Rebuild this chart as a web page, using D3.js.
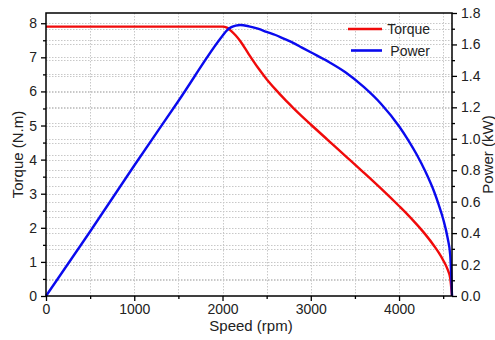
<!DOCTYPE html>
<html>
<head>
<meta charset="utf-8">
<script src="https://cdn.jsdelivr.net/npm/d3@7"></script>
<style>
	body { margin: 0; background: #fff; }
	svg { font-family: "Liberation Sans", Arial, sans-serif; }
</style>
</head>
<body>
<svg width="495" height="340"></svg>
<script>
//speed in rpm, shared by both curves
var speed = [0, 500, 1000, 1500, 2000, 2050, 2100, 2150, 2200, 2300, 2400, 2500, 2600, 2700, 2800, 2900, 3000,
	3200, 3400, 3600, 3800, 4000, 4100, 4200, 4300, 4400, 4450, 4500, 4550, 4580, 4600];
//torque in N.m
var torque = [7.9, 7.9, 7.9, 7.9, 7.9, 7.87, 7.77, 7.64, 7.48, 7.08, 6.7, 6.36, 6.06, 5.78, 5.52, 5.27, 5.03,
	4.56, 4.09, 3.62, 3.14, 2.64, 2.38, 2.1, 1.8, 1.46, 1.27, 1.05, 0.78, 0.52, 0];
//power in kW
var power = [0, 0.41, 0.83, 1.24, 1.655, 1.69, 1.71, 1.72, 1.724, 1.715, 1.7, 1.68, 1.66, 1.635, 1.61, 1.58, 1.55,
	1.49, 1.42, 1.33, 1.22, 1.08, 0.995, 0.9, 0.79, 0.66, 0.58, 0.49, 0.37, 0.26, 0];

var speedTicks = [0, 1000, 2000, 3000, 4000];
var torqueTicks = [0, 1, 2, 3, 4, 5, 6, 7, 8];
var powerTicks = [0, 0.2, 0.4, 0.6, 0.8, 1.0, 1.2, 1.4, 1.6, 1.8];

var series = [
	{ name: "Torque", values: torque, color: "#f00a0a" },
	{ name: "Power", values: power, color: "#0a0aee" }
];

var svg = d3.select("svg");
var margin = { left: 46, right: 43, top: 13, bottom: 44 };
var width = +svg.attr("width") - margin.left - margin.right;
var height = +svg.attr("height") - margin.top - margin.bottom;

var g = svg.append("g").attr("transform", "translate(" + margin.left + "," + margin.top + ")");

var x = d3.scaleLinear().domain([0, 4600]).range([0, width]);
var yT = d3.scaleLinear().domain([0, 8.3]).range([height, 0]);
var yP = d3.scaleLinear().domain([0, 1.8]).range([height, 0]);

//minor values
var speedMinor = d3.range(500, 4600, 1000);
var torqueMinor = d3.range(0.5, 8.3, 1);
var powerMinor = d3.range(0.1, 1.8, 0.2);

//Grid (dotted, both axes)
var grid = g.append("g").attr("class", "grid")
	.attr("stroke", "#c8c8c8")
	.attr("stroke-width", 1)
	.attr("stroke-dasharray", "1.5,1.5");

grid.selectAll("line.v")
	.data(d3.range(500, 4600, 500))
	.enter().append("line")
	.attr("class", "v")
	.attr("x1", (d) => Math.round(x(d)) + 0.5).attr("x2", (d) => Math.round(x(d)) + 0.5)
	.attr("y1", 0).attr("y2", height);

grid.selectAll("line.ht")
	.data(d3.range(0.5, 8.3, 0.5))
	.enter().append("line")
	.attr("class", "ht")
	.attr("x1", 0).attr("x2", width)
	.attr("y1", (d) => Math.round(yT(d)) + 0.5).attr("y2", (d) => Math.round(yT(d)) + 0.5);

grid.selectAll("line.hp")
	.data(d3.range(0.1, 1.75, 0.1))
	.enter().append("line")
	.attr("class", "hp")
	.attr("x1", 0).attr("x2", width)
	.attr("y1", (d) => Math.round(yP(d)) + 0.5).attr("y2", (d) => Math.round(yP(d)) + 0.5);

//Curves
var lineT = d3.line()
	.x((d, i) => x(speed[i]))
	.y((d) => yT(d))
	.curve(d3.curveMonotoneX);

var lineP = d3.line()
	.x((d, i) => x(speed[i]))
	.y((d) => yP(d))
	.curve(d3.curveMonotoneX);

g.append("path")
	.datum(torque)
	.attr("fill", "none")
	.attr("stroke", series[0].color)
	.attr("stroke-width", 2.4)
	.attr("d", lineT);

g.append("path")
	.datum(power)
	.attr("fill", "none")
	.attr("stroke", series[1].color)
	.attr("stroke-width", 2.4)
	.attr("d", lineP);

//Axes
var fontSize = "14px";

var xAxis = g.append("g")
	.attr("transform", "translate(0," + height + ")")
	.call(d3.axisBottom(x).tickValues(speedTicks).tickSize(5).tickPadding(3).tickFormat(d3.format("d")));

var xMinor = g.append("g")
	.attr("transform", "translate(0," + height + ")")
	.call(d3.axisBottom(x).tickValues(speedMinor).tickSize(3).tickFormat(""));

var yAxisL = g.append("g")
	.call(d3.axisLeft(yT).tickValues(torqueTicks).tickSize(5).tickPadding(4).tickFormat(d3.format("d")));

var yMinorL = g.append("g")
	.call(d3.axisLeft(yT).tickValues(torqueMinor).tickSize(3).tickFormat(""));

var yAxisR = g.append("g")
	.attr("transform", "translate(" + width + ",0)")
	.call(d3.axisRight(yP).tickValues(powerTicks).tickSize(5).tickPadding(4).tickFormat(d3.format(".1f")));

var yMinorR = g.append("g")
	.attr("transform", "translate(" + width + ",0)")
	.call(d3.axisRight(yP).tickValues(powerMinor).tickSize(3).tickFormat(""));

[xAxis, xMinor, yAxisL, yMinorL, yAxisR, yMinorR].forEach(function (a) {
	a.select(".domain").remove();
	a.selectAll("line").attr("stroke", "#000").attr("stroke-width", 1.3);
	a.selectAll("text").attr("fill", "#222").style("font-size", fontSize).style("font-family", null);
});

//frame
g.append("rect")
	.attr("x", 0).attr("y", 0)
	.attr("width", width).attr("height", height)
	.attr("fill", "none")
	.attr("stroke", "#000")
	.attr("stroke-width", 1.5);

//Axis titles
svg.append("text")
	.attr("x", margin.left + width / 2 + 2)
	.attr("y", 331)
	.attr("text-anchor", "middle")
	.style("font-size", "15px")
	.attr("fill", "#222")
	.text("Speed (rpm)");

svg.append("text")
	.attr("transform", "translate(23," + (margin.top + height / 2) + ") rotate(-90)")
	.attr("text-anchor", "middle")
	.style("font-size", "15px")
	.attr("fill", "#222")
	.text("Torque (N.m)");

svg.append("text")
	.attr("transform", "translate(493," + (margin.top + height / 2) + ") rotate(-90)")
	.attr("text-anchor", "middle")
	.style("font-size", "15px")
	.attr("fill", "#222")
	.text("Power (kW)");

//Legend
var legend = svg.append("g").attr("class", "legend");
var item = legend.selectAll("g")
	.data(series)
	.enter().append("g")
	.attr("transform", (d, i) => "translate(0," + (29 + i * 21.5) + ")");

item.append("line")
	.attr("x1", (d, i) => i === 0 ? 348 : 351)
	.attr("x2", 382)
	.attr("stroke", (d) => d.color)
	.attr("stroke-width", 2.6);

item.append("text")
	.attr("x", 430)
	.attr("dy", "0.36em")
	.attr("text-anchor", "end")
	.style("font-size", "14px")
	.attr("fill", "#222")
	.text((d) => d.name);
</script>
</body>
</html>
